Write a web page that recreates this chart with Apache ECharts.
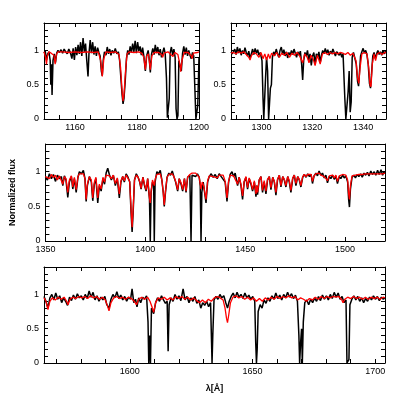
<!DOCTYPE html>
<html>
<head>
<meta charset="utf-8">
<script src="https://cdn.jsdelivr.net/npm/echarts@6/dist/echarts.min.js"></script>
<style>
  html, body { margin: 0; padding: 0; background: #fff; }
  #main { width: 407px; height: 407px; }
</style>
</head>
<body>
<div id="main"></div>
<script>
// 光谱数据 [波长, 归一化流量]
// 1150-1200
var obsA = [[1150.0,0.96],[1150.4,0.99],[1150.8,0.86],[1151.2,0.95],[1151.6,0.98],[1152.0,0.85],[1152.2,0.50],[1152.4,0.80],[1152.6,0.35],[1152.9,0.85],
  [1153.3,0.95],[1153.7,0.82],[1154.1,0.96],[1154.5,1.00],[1155.0,0.97],[1155.5,1.01],[1156.0,0.96],[1156.5,1.02],[1157.0,0.98],[1157.5,0.95],
  [1158.0,1.02],[1158.5,0.97],[1159.0,0.88],[1159.4,1.03],[1159.8,0.86],[1160.2,1.05],[1160.6,0.93],[1161.0,1.08],[1161.4,0.95],[1161.8,1.12],
  [1162.2,0.92],[1162.6,1.18],[1163.0,0.98],[1163.4,1.10],[1163.8,0.85],[1164.2,0.62],[1164.5,0.95],[1164.9,1.15],[1165.3,0.96],[1165.7,1.12],
  [1166.1,0.94],[1166.5,1.06],[1166.9,0.92],[1167.3,1.04],[1167.7,0.97],[1168.1,0.92],[1168.5,0.70],[1168.8,0.63],[1169.1,0.85],[1169.5,0.98],
  [1170.0,0.93],[1170.4,1.05],[1170.8,0.95],[1171.2,1.02],[1171.6,0.93],[1172.0,1.00],[1172.5,0.96],[1173.0,1.03],[1173.5,0.95],[1174.0,0.98],
  [1174.4,0.85],[1174.8,0.60],[1175.2,0.35],[1175.5,0.22],[1175.8,0.30],[1176.2,0.55],[1176.6,0.88],[1177.0,1.00],[1177.4,0.94],[1177.8,1.06],
  [1178.2,0.97],[1178.6,1.10],[1179.0,0.98],[1179.4,1.14],[1179.8,0.96],[1180.2,1.12],[1180.6,0.99],[1181.0,1.06],[1181.4,0.93],[1181.8,1.04],
  [1182.2,0.92],[1182.7,0.70],[1183.1,0.92],[1183.6,1.00],[1184.0,0.85],[1184.3,0.68],[1184.7,0.95],[1185.1,1.03],[1185.5,0.94],[1185.9,1.08],
  [1186.3,0.96],[1186.7,1.05],[1187.1,0.93],[1187.5,1.02],[1187.9,0.90],[1188.3,0.97],[1188.7,1.04],[1189.1,0.95],[1189.5,0.60],[1189.8,0.02],
  [1190.1,0.00],[1190.4,0.30],[1190.7,0.97],[1191.1,1.05],[1191.5,0.93],[1191.9,1.02],[1192.3,0.90],[1192.6,0.15],[1192.9,0.00],[1193.2,0.05],
  [1193.5,0.85],[1193.9,0.78],[1194.3,0.70],[1194.7,0.96],[1195.1,1.06],[1195.5,0.94],[1195.9,1.04],[1196.3,0.92],[1196.7,1.00],[1197.1,0.93],
  [1197.5,0.88],[1197.9,0.97],[1198.3,0.92],[1198.7,0.40],[1199.0,0.00],[1199.3,0.00],[1199.6,0.20],[1200.0,0.90]];
var modA = [[1150.0,0.98],[1150.5,0.90],[1150.8,0.80],[1151.1,0.92],[1151.6,0.98],[1152.3,0.96],[1153.2,0.93],[1153.6,0.80],[1154.0,0.94],[1154.5,0.98],
  [1156,0.98],[1158,0.97],[1160,0.98],[1162,0.97],[1164,0.98],[1166,0.97],[1167.5,0.98],[1168.3,0.85],[1168.8,0.62],[1169.3,0.88],
  [1170,0.98],[1171.5,0.97],[1173,0.98],[1174.2,0.94],[1174.7,0.75],[1175.2,0.40],[1175.5,0.26],[1175.8,0.35],[1176.3,0.70],[1176.8,0.95],
  [1177.5,0.98],[1179,0.97],[1180.5,0.98],[1181.5,0.96],[1182.2,0.90],[1182.7,0.72],[1183.1,0.92],[1183.7,0.95],[1184.3,0.72],[1184.8,0.92],
  [1185.5,0.97],[1187,0.97],[1188.0,0.94],[1188.3,0.90],[1188.7,0.96],[1190,0.98],[1191.6,0.91],[1192.2,0.97],[1193.2,0.94],[1193.8,0.80],
  [1194.1,0.69],[1194.5,0.85],[1195.2,0.97],[1196.5,0.97],[1197.5,0.92],[1197.8,0.88],[1198.2,0.96],[1199.5,0.97],[1200,0.98]];

// 1288-1349
var obsB = [[1288.0,0.98],[1288.5,0.95],[1289.0,0.97],[1289.5,1.02],[1290.0,0.94],[1290.5,1.05],[1291.0,0.96],[1291.5,1.03],[1292.0,0.93],[1292.5,1.00],
  [1293.0,0.95],[1293.5,1.04],[1294.0,0.97],[1294.5,0.92],[1295.0,0.99],[1295.5,0.88],[1296.0,0.95],[1296.5,1.02],[1297.0,0.94],[1297.5,1.03],
  [1298.0,0.96],[1298.5,1.01],[1299.0,0.93],[1299.5,0.97],[1300.2,0.85],[1300.6,0.30],[1300.9,0.00],[1301.3,0.00],[1301.6,0.60],[1302.0,0.90],
  [1302.4,0.70],[1302.8,0.00],[1303.2,0.00],[1303.5,0.45],[1303.9,0.50],[1304.3,0.90],[1304.8,0.98],[1305.3,0.93],[1305.8,1.02],[1306.3,0.95],
  [1306.8,0.90],[1307.3,1.00],[1307.8,1.05],[1308.3,0.94],[1308.8,1.01],[1309.3,0.92],[1309.8,0.98],[1310.3,0.89],[1310.8,0.97],[1311.3,0.93],
  [1311.8,1.00],[1312.3,0.94],[1312.8,1.02],[1313.3,0.96],[1313.8,0.90],[1314.3,0.98],[1314.8,0.93],[1315.3,0.99],[1315.8,0.80],[1316.2,0.57],
  [1316.6,0.85],[1317.1,0.97],[1317.6,0.92],[1318.1,1.00],[1318.6,0.86],[1319.1,0.95],[1319.6,0.78],[1320.1,0.92],[1320.6,0.97],[1321.1,0.80],
  [1321.6,0.95],[1322.1,0.90],[1322.6,0.98],[1323.1,0.82],[1323.6,0.93],[1324.1,1.00],[1324.6,0.95],[1325.1,1.03],[1325.6,0.96],[1326.1,1.01],
  [1326.6,0.93],[1327.1,0.99],[1327.6,0.95],[1328.1,1.02],[1328.6,0.97],[1329.1,0.92],[1329.6,0.98],[1330.1,1.00],[1330.6,0.93],[1331.1,0.97],
  [1331.6,0.90],[1332.1,0.95],[1332.8,0.30],[1333.2,0.00],[1333.7,0.00],[1334.1,0.40],[1334.5,0.70],[1334.9,0.10],[1335.3,0.25],[1335.7,0.90],
  [1336.2,0.97],[1336.7,0.95],[1337.3,0.80],[1337.8,0.55],[1338.2,0.48],[1338.6,0.70],[1339.0,0.92],[1339.5,0.98],[1340.0,1.03],[1340.5,0.96],
  [1341.0,1.00],[1341.5,0.94],[1342.0,0.80],[1342.5,0.52],[1342.9,0.45],[1343.3,0.65],[1343.8,0.92],[1344.3,0.97],[1344.8,0.88],[1345.3,0.95],
  [1345.8,1.00],[1346.3,0.94],[1346.8,0.98],[1347.3,0.93],[1347.8,1.00],[1348.3,0.95],[1348.8,0.99],[1349.0,0.96]];
var modB = [[1288,0.96],[1289,0.97],[1290,0.95],[1291,0.98],[1292,0.96],[1293,0.98],[1294,0.94],[1295.0,0.90],[1295.5,0.86],[1296.0,0.92],
  [1297,0.97],[1298,0.95],[1299,0.90],[1299.8,0.97],[1300.6,0.88],[1301.3,0.95],[1302,0.86],[1302.7,0.95],[1303.3,0.88],[1304,0.96],
  [1305,0.92],[1306,0.97],[1307,0.90],[1308,0.96],[1309,0.93],[1310,0.97],[1311,0.90],[1312,0.96],[1313,0.93],[1314,0.97],
  [1315,0.92],[1316.2,0.82],[1317,0.95],[1318,0.90],[1318.7,0.82],[1319.5,0.93],[1320.3,0.88],[1321.1,0.78],[1322,0.93],[1323.1,0.80],
  [1324,0.95],[1325,0.97],[1326,0.94],[1327,0.97],[1328,0.95],[1329,0.97],[1330,0.95],[1331,0.97],[1332,0.96],[1333,0.94],
  [1334,0.97],[1335,0.93],[1336,0.96],[1337.2,0.85],[1337.8,0.60],[1338.3,0.52],[1338.8,0.75],[1339.5,0.95],[1340.5,0.97],[1341.5,0.95],
  [1342.2,0.75],[1342.7,0.50],[1343.1,0.47],[1343.6,0.80],[1344.3,0.95],[1344.9,0.85],[1345.5,0.95],[1346.5,0.97],[1347.5,0.94],[1348.5,0.97],[1349,0.97]];

// 1350-1520
var obsC = [[1350,0.92],[1351,0.88],[1352,0.97],[1353,0.90],[1354,0.96],[1355,0.86],[1356,0.95],[1357,0.90],[1358,0.93],[1358.7,0.80],
  [1359.5,0.94],[1360.3,0.88],[1361.2,0.63],[1362,0.85],[1363,0.93],[1363.7,0.75],[1364.5,0.90],[1365.4,0.70],[1366.3,0.92],[1367,1.00],
  [1368,0.97],[1369,1.02],[1369.8,0.90],[1370.4,0.57],[1371,0.80],[1372,0.93],[1373,0.85],[1373.7,0.58],[1374.5,0.82],[1375.3,0.90],
  [1376.2,0.55],[1377,0.80],[1377.9,0.72],[1378.8,0.90],[1379.6,0.82],[1380.4,0.98],[1381.2,1.05],[1382,0.96],[1383,0.88],[1384,0.95],
  [1385,0.80],[1386,0.90],[1387,0.62],[1387.8,0.85],[1388.7,0.93],[1389.5,0.85],[1390.4,0.97],[1391.2,0.93],[1392.2,0.85],[1392.9,0.40],
  [1393.4,0.13],[1393.9,0.40],[1394.6,0.88],[1395.5,0.97],[1396.4,0.92],[1397.2,0.85],[1397.9,0.75],[1398.8,0.92],[1399.6,0.80],[1400.4,0.72],
  [1401.2,0.90],[1402.1,0.60],[1402.5,0.00],[1402.9,0.70],[1403.6,0.85],[1404.2,0.80],[1404.5,0.00],[1404.9,0.85],[1405.8,1.00],[1406.6,0.97],
  [1407.5,1.02],[1408.3,0.88],[1409.0,0.70],[1409.5,0.50],[1410.1,0.70],[1410.9,0.92],[1411.8,0.98],[1412.6,0.95],[1413.5,1.01],[1414.3,0.93],
  [1415.2,0.85],[1416.2,0.72],[1417.0,0.90],[1417.9,0.82],[1418.7,0.72],[1419.6,0.90],[1420.4,0.70],[1421.2,0.92],[1422.3,0.95],[1422.9,0.00],
  [1423.4,0.95],[1424.3,0.97],[1425.2,0.93],[1426.1,0.97],[1427.0,0.92],[1427.5,0.80],[1427.9,0.00],[1428.3,0.70],[1429.0,0.85],[1429.7,0.70],
  [1430.4,0.55],[1431.2,0.85],[1432,0.93],[1433,0.97],[1434,0.92],[1435,0.96],[1436,0.90],[1437,0.97],[1438,0.93],[1439,0.95],
  [1440,0.85],[1440.9,0.57],[1441.7,0.85],[1442.5,0.96],[1443.4,1.00],[1444.2,0.93],[1445.0,0.98],[1446.2,0.80],[1447.0,0.92],[1447.9,0.80],
  [1448.7,0.60],[1449.5,0.85],[1450.4,0.92],[1451.2,0.75],[1452.0,0.90],[1452.9,0.82],[1453.7,0.72],[1454.6,0.85],[1455.4,0.64],[1455.8,0.80],
  [1456.2,0.67],[1457.0,0.88],[1457.9,0.93],[1458.7,0.70],[1459.5,0.85],[1460.4,0.68],[1461.2,0.88],[1462.1,0.93],[1462.9,0.74],[1463.8,0.92],
  [1464.6,0.85],[1465.4,0.66],[1466.2,0.88],[1467.1,0.95],[1467.9,0.78],[1468.8,0.93],[1469.6,0.88],[1470.4,0.78],[1471.3,0.93],[1472.1,0.85],
  [1472.9,0.70],[1473.8,0.90],[1474.6,0.95],[1475.4,0.80],[1476.3,0.93],[1477.1,0.88],[1477.9,0.78],[1478.8,0.92],[1479.6,0.96],[1480.5,0.92],
  [1481.3,0.97],[1482.2,0.93],[1483.0,0.96],[1483.7,0.83],[1484.5,0.94],[1485.4,0.98],[1486.2,0.94],[1487.0,1.01],[1487.9,0.95],[1488.7,0.98],
  [1489.6,0.91],[1490.4,0.95],[1491.2,0.84],[1492.1,0.93],[1492.9,0.90],[1493.8,0.95],[1494.6,0.89],[1495.4,0.94],[1496.2,0.83],[1497.1,0.93],
  [1497.9,0.90],[1498.8,0.95],[1499.6,0.91],[1500.4,0.94],[1501.3,0.85],[1501.8,0.60],[1502.2,0.49],[1502.7,0.75],[1503.5,0.92],[1504.4,0.95],
  [1505.2,0.91],[1506.1,0.96],[1506.9,0.93],[1507.8,0.97],[1508.6,0.92],[1509.5,0.98],[1510.3,0.95],[1511.2,0.99],[1512.0,0.94],[1512.9,1.01],
  [1513.7,0.96],[1514.6,1.00],[1515.4,0.95],[1516.3,1.02],[1517.1,0.96],[1518.0,1.03],[1518.8,0.95],[1519.5,1.00],[1520,0.97]];
var modC = [[1350,0.93],[1351,0.95],[1352,0.90],[1353,0.96],[1354,0.92],[1355,0.95],[1356,0.88],[1357,0.94],[1358,0.92],[1358.7,0.82],
  [1359.5,0.93],[1360.3,0.90],[1361.2,0.70],[1362,0.88],[1363,0.94],[1363.7,0.78],[1364.5,0.92],[1365.4,0.74],[1366.3,0.93],[1367,0.97],
  [1368,0.95],[1369,0.97],[1369.8,0.90],[1370.4,0.60],[1371,0.82],[1372,0.93],[1373,0.88],[1373.7,0.62],[1374.5,0.85],[1375.3,0.92],
  [1376.2,0.62],[1377,0.82],[1377.9,0.75],[1378.8,0.92],[1379.6,0.85],[1380.4,0.95],[1381.2,0.97],[1382,0.94],[1383,0.90],[1384,0.95],
  [1385,0.83],[1386,0.91],[1387,0.68],[1387.8,0.87],[1388.7,0.93],[1389.5,0.87],[1390.4,0.95],[1391.2,0.93],[1392.2,0.86],[1392.9,0.45],
  [1393.4,0.20],[1393.9,0.45],[1394.6,0.88],[1395.5,0.95],[1396.4,0.92],[1397.2,0.86],[1397.9,0.76],[1398.8,0.92],[1399.6,0.82],[1400.4,0.74],
  [1401.2,0.90],[1402.1,0.62],[1402.5,0.55],[1402.9,0.72],[1403.6,0.88],[1404.5,0.80],[1405.0,0.90],[1405.8,0.96],[1406.6,0.95],[1407.5,0.97],
  [1408.3,0.88],[1409.0,0.70],[1409.5,0.52],[1410.1,0.72],[1410.9,0.92],[1411.8,0.96],[1412.6,0.94],[1413.5,0.97],[1414.3,0.93],[1415.2,0.86],
  [1416.2,0.74],[1417.0,0.90],[1417.9,0.84],[1418.7,0.74],[1419.6,0.90],[1420.4,0.72],[1421.2,0.92],[1422.3,0.96],[1423.4,0.98],[1424.3,0.99],
  [1425.2,0.98],[1426.1,0.97],[1427.0,0.92],[1427.9,0.75],[1428.5,0.85],[1429.2,0.80],[1430.4,0.60],[1431.2,0.87],[1432,0.94],[1433,0.96],
  [1434,0.93],[1435,0.95],[1436,0.91],[1437,0.95],[1438,0.93],[1439,0.95],[1440,0.86],[1440.9,0.62],[1441.7,0.86],[1442.5,0.95],
  [1443.4,0.97],[1444.2,0.94],[1445.0,0.96],[1446.2,0.82],[1447.0,0.92],[1447.9,0.82],[1448.7,0.65],[1449.5,0.86],[1450.4,0.93],[1451.2,0.77],
  [1452.0,0.91],[1452.9,0.84],[1453.7,0.74],[1454.6,0.87],[1455.4,0.68],[1455.8,0.80],[1456.2,0.70],[1457.0,0.88],[1457.9,0.93],[1458.7,0.73],
  [1459.5,0.87],[1460.4,0.72],[1461.2,0.89],[1462.1,0.93],[1462.9,0.77],[1463.8,0.92],[1464.6,0.86],[1465.4,0.70],[1466.2,0.89],[1467.1,0.95],
  [1467.9,0.80],[1468.8,0.93],[1469.6,0.89],[1470.4,0.80],[1471.3,0.93],[1472.1,0.87],[1472.9,0.73],[1473.8,0.91],[1474.6,0.95],[1475.4,0.83],
  [1476.3,0.93],[1477.1,0.89],[1477.9,0.80],[1478.8,0.93],[1479.6,0.96],[1480.5,0.93],[1481.3,0.96],[1482.2,0.94],[1483.0,0.96],[1483.7,0.86],
  [1484.5,0.94],[1485.4,0.97],[1486.2,0.95],[1487.0,0.98],[1487.9,0.95],[1488.7,0.97],[1489.6,0.93],[1490.4,0.95],[1491.2,0.87],[1492.1,0.94],
  [1492.9,0.92],[1493.8,0.95],[1494.6,0.91],[1495.4,0.95],[1496.2,0.86],[1497.1,0.94],[1497.9,0.93],[1498.8,0.96],[1499.6,0.94],[1500.4,0.95],
  [1501.3,0.88],[1501.8,0.68],[1502.2,0.60],[1502.7,0.80],[1503.5,0.94],[1504.4,0.96],[1505.2,0.95],[1506.1,0.97],[1506.9,0.96],[1507.8,0.97],
  [1508.6,0.96],[1509.5,0.98],[1510.3,0.97],[1511.2,0.98],[1512.0,0.97],[1512.9,0.99],[1513.7,0.97],[1514.6,0.98],[1515.4,0.97],[1516.3,0.99],
  [1517.1,0.97],[1518.0,0.99],[1518.8,0.97],[1520,0.98]];

// 1565-1704
var obsD = [[1565,0.97],[1565.8,0.90],[1566.6,0.80],[1567.4,0.95],[1568.2,1.00],[1569,0.92],[1569.8,1.02],[1570.6,0.93],[1571.4,0.98],[1572.2,0.88],
  [1573,0.95],[1573.8,0.90],[1574.6,0.84],[1575.4,0.96],[1576.2,0.91],[1577,0.99],[1577.8,0.93],[1578.6,1.01],[1579.4,0.95],[1580.2,0.98],
  [1581,0.92],[1581.8,1.00],[1582.6,0.94],[1583.4,1.05],[1584.2,0.96],[1585,1.03],[1585.8,0.92],[1586.6,0.98],[1587.4,0.90],[1588.2,0.96],
  [1589,0.92],[1589.8,0.97],[1590.6,0.85],[1591.5,0.80],[1592.3,0.93],[1593.1,1.00],[1593.9,0.95],[1594.7,1.04],[1595.5,0.94],[1596.3,0.99],
  [1597.1,0.92],[1597.9,0.97],[1598.7,0.90],[1599.5,0.96],[1600.3,0.93],[1600.9,1.08],[1601.6,0.88],[1602.3,0.93],[1602.9,0.82],[1603.6,0.95],
  [1604.4,0.88],[1605.2,0.96],[1606,0.93],[1606.8,0.98],[1607.4,0.60],[1607.7,0.00],[1608.0,0.40],[1608.4,0.00],[1608.8,0.80],[1609.7,0.72],
  [1610.5,0.88],[1611.3,0.95],[1612.1,0.90],[1612.9,0.98],[1613.7,0.92],[1614.5,0.87],[1615.2,0.90],[1615.6,0.17],[1616.0,0.85],[1616.8,0.95],
  [1617.6,0.90],[1618.4,1.00],[1619.2,0.93],[1620,0.98],[1620.8,0.91],[1621.7,1.08],[1622.5,0.92],[1623.3,0.97],[1624.1,0.88],[1624.9,0.95],
  [1625.7,0.90],[1626.5,0.97],[1627.3,0.87],[1628.1,0.92],[1628.9,0.80],[1629.7,0.88],[1630.5,0.84],[1631.3,0.90],[1632.1,0.82],[1632.9,0.88],
  [1633.3,0.30],[1633.5,0.00],[1633.8,0.40],[1634.3,0.92],[1635.1,0.97],[1635.9,0.93],[1636.7,1.00],[1637.5,0.95],[1638.3,0.98],[1639.1,0.88],
  [1639.8,0.80],[1640.5,0.90],[1641.3,0.97],[1642.1,1.02],[1642.9,0.95],[1643.7,1.03],[1644.5,0.96],[1645.3,1.00],[1646.1,0.94],[1646.9,1.02],
  [1647.7,0.95],[1648.5,0.99],[1649.3,0.93],[1650.1,0.97],[1650.9,0.90],[1651.3,0.30],[1651.6,0.00],[1651.9,0.20],[1652.3,0.75],[1653.1,0.85],
  [1653.9,0.80],[1654.7,0.92],[1655.5,0.87],[1656.3,0.95],[1657.1,0.90],[1657.9,0.98],[1658.7,0.93],[1659.5,1.02],[1660.3,0.94],[1661.1,0.99],
  [1661.9,0.92],[1662.7,1.00],[1663.5,0.95],[1664.3,1.03],[1665.1,0.96],[1665.9,1.01],[1666.7,0.94],[1667.5,0.99],[1668.3,0.90],[1668.9,0.40],
  [1669.2,0.00],[1669.6,0.30],[1670.0,0.50],[1670.3,0.00],[1670.7,0.60],[1671.3,0.88],[1672.1,0.92],[1672.9,0.85],[1673.7,0.93],[1674.5,0.88],
  [1675.3,0.95],[1676.1,0.90],[1676.9,0.97],[1677.7,0.91],[1678.5,0.99],[1679.3,0.93],[1680.1,0.98],[1680.9,0.92],[1681.7,1.00],[1682.5,0.94],
  [1683.3,1.03],[1684.1,0.96],[1684.9,1.02],[1685.7,0.93],[1686.5,0.97],[1687.3,0.88],[1688.1,0.92],[1688.5,0.00],[1688.9,0.00],[1689.3,0.05],
  [1689.7,0.85],[1690.5,0.93],[1691.3,0.98],[1692.1,0.92],[1692.9,0.97],[1693.7,0.90],[1694.5,0.95],[1695.3,0.88],[1696.1,0.94],[1696.9,0.90],
  [1697.7,0.96],[1698.5,0.92],[1699.3,0.98],[1700.1,0.93],[1700.9,0.97],[1701.7,0.91],[1702.5,0.96],[1703.3,0.93],[1704,0.95]];
var modD = [[1565,0.95],[1565.8,0.90],[1566.6,0.78],[1567.4,0.90],[1568.4,0.95],[1569.6,0.92],[1570.8,0.96],[1572,0.93],[1573.2,0.96],[1574.2,0.90],
  [1574.8,0.85],[1575.6,0.93],[1576.8,0.96],[1578,0.94],[1579.2,0.97],[1580.4,0.95],[1581.6,0.97],[1582.8,0.94],[1584,0.98],[1585.2,0.95],
  [1586.4,0.97],[1587.6,0.93],[1588.8,0.96],[1590,0.92],[1590.8,0.84],[1591.5,0.76],[1592.3,0.88],[1593.4,0.95],[1594.6,0.97],[1595.8,0.94],
  [1597,0.96],[1598.2,0.93],[1599.4,0.96],[1600.6,0.94],[1601.8,0.90],[1602.7,0.85],[1603.6,0.93],[1604.8,0.96],[1606,0.93],[1607.2,0.96],
  [1608.2,0.90],[1609.0,0.82],[1609.7,0.74],[1610.5,0.88],[1611.6,0.95],[1612.8,0.93],[1614,0.96],[1615.2,0.92],[1616.4,0.95],[1617.6,0.92],
  [1618.8,0.97],[1620,0.94],[1621.2,0.97],[1622.4,0.93],[1623.6,0.96],[1624.8,0.92],[1626,0.95],[1627.2,0.91],[1628.4,0.88],[1629.6,0.92],
  [1630.8,0.88],[1632,0.93],[1633.2,0.90],[1634.4,0.95],[1635.6,0.97],[1636.8,0.95],[1638.0,0.92],[1638.8,0.80],[1639.4,0.65],[1639.8,0.59],
  [1640.3,0.70],[1641.0,0.88],[1642.0,0.96],[1643.2,0.98],[1644.4,0.95],[1645.6,0.97],[1646.8,0.93],[1648,0.96],[1649.2,0.92],[1650.4,0.95],
  [1651.6,0.90],[1652.8,0.94],[1654,0.90],[1655.2,0.95],[1656.4,0.92],[1657.6,0.96],[1658.8,0.93],[1660,0.97],[1661.2,0.94],[1662.4,0.97],
  [1663.6,0.95],[1664.8,0.98],[1666,0.95],[1667.2,0.97],[1668.4,0.92],[1669.6,0.95],[1670.8,0.93],[1672,0.90],[1673.2,0.94],[1674.4,0.92],
  [1675.6,0.96],[1676.8,0.93],[1678,0.97],[1679.2,0.94],[1680.4,0.97],[1681.6,0.95],[1682.8,0.97],[1684,0.96],[1685.2,0.97],[1686.4,0.92],
  [1686.9,0.88],[1687.6,0.93],[1688.8,0.96],[1690,0.94],[1691.2,0.97],[1692.4,0.94],[1693.6,0.96],[1694.8,0.93],[1696,0.96],[1697.2,0.93],
  [1698.4,0.96],[1699.6,0.94],[1700.8,0.96],[1702,0.93],[1703.2,0.96],[1704,0.95]];

// 刻度
var ticksA = [1155,1160,1165,1170,1175,1180,1185,1190,1195];
var labelsA = [1160,1180,1200];
var ticksB = [1290,1295,1300,1305,1310,1315,1320,1325,1330,1335,1340,1345];
var labelsB = [1300,1320,1340];
var ticksC = [1360,1370,1380,1390,1400,1410,1420,1430,1440,1450,1460,1470,1480,1490,1500,1510];
var labelsC = [1350,1400,1450,1500];
var ticksD = [1570,1580,1590,1600,1610,1620,1630,1640,1650,1660,1670,1680,1690,1700];
var labelsD = [1600,1650,1700];
var ticksY = [0.1,0.2,0.3,0.4,0.5,0.6,0.7,0.8,0.9,1.0,1.1,1.2,1.3];
var labelsY = [0,0.5,1];

var myChart = echarts.init(document.getElementById('main'));

var labelFont = { color: '#000', fontFamily: 'Liberation Sans', fontSize: 9 };
var black = { color: '#000', width: 1 };

//生成一个面板的坐标轴(四边都有刻度)
function makeX(gi, min, max, ticks, labels, name) {
    var base = {
        gridIndex: gi, type: 'value', min: min, max: max,
        splitLine: { show: false },
        axisLine: { show: true, onZero: false, lineStyle: black }
    };
    var bottom = Object.assign({}, base, {
        position: 'bottom',
        axisTick: { inside: true, length: 4, customValues: ticks, lineStyle: black },
        axisLabel: Object.assign({
            customValues: labels, margin: 4,
            formatter: function (v) { return String(v); }
        }, labelFont)
    });
    if (name) {
        bottom.name = name;
        bottom.nameLocation = 'middle';
        bottom.nameGap = 21;
        bottom.nameTextStyle = { color: '#000', fontFamily: 'Liberation Sans', fontSize: 9, fontWeight: 'bold' };
    }
    var top = Object.assign({}, base, {
        position: 'top',
        axisTick: { inside: true, length: 4, customValues: ticks, lineStyle: black },
        axisLabel: { show: false }
    });
    return [bottom, top];
}

function makeY(gi, name) {
    var base = {
        gridIndex: gi, type: 'value', min: 0, max: 1.4,
        splitLine: { show: false },
        axisLine: { show: true, onZero: false, lineStyle: black }
    };
    var left = Object.assign({}, base, {
        position: 'left',
        axisTick: { inside: true, length: 4, customValues: ticksY, lineStyle: black },
        axisLabel: Object.assign({
            customValues: labelsY, margin: 5,
            formatter: function (v) { return String(v); }
        }, labelFont)
    });
    if (name) {
        left.name = name;
        left.nameLocation = 'middle';
        left.nameRotate = 90;
        left.nameGap = 24;
        left.nameTextStyle = { color: '#000', fontFamily: 'Liberation Sans', fontSize: 9, fontWeight: 'bold' };
    }
    var right = Object.assign({}, base, {
        position: 'right',
        axisTick: { inside: true, length: 4, customValues: ticksY, lineStyle: black },
        axisLabel: { show: false }
    });
    return [left, right];
}

function spec(gi, obs, mod) {
    return [
        { type: 'line', xAxisIndex: gi * 2, yAxisIndex: gi * 2, data: obs, showSymbol: false,
          lineStyle: { color: '#000', width: 1.5 }, itemStyle: { color: '#000' }, z: 2 },
        { type: 'line', xAxisIndex: gi * 2, yAxisIndex: gi * 2, data: mod, showSymbol: false,
          lineStyle: { color: '#ff0000', width: 1.3 }, itemStyle: { color: '#ff0000' }, z: 3 }
    ];
}

var option = {
    animation: false,
    backgroundColor: '#fff',
    grid: [
        { left: 44, top: 23, width: 155, height: 96 },
        { left: 231, top: 23, width: 155, height: 96 },
        { left: 44, top: 144, width: 341, height: 97 },
        { left: 44, top: 267, width: 341, height: 96 }
    ],
    xAxis: [].concat(
        makeX(0, 1150, 1200, ticksA, labelsA),
        makeX(1, 1288, 1349, ticksB, labelsB),
        makeX(2, 1350, 1520, ticksC, labelsC),
        makeX(3, 1565, 1704, ticksD, labelsD, 'λ[Å]')
    ),
    yAxis: [].concat(
        makeY(0), makeY(1), makeY(2, 'Normalized flux'), makeY(3)
    ),
    series: [].concat(
        spec(0, obsA, modA), spec(1, obsB, modB), spec(2, obsC, modC), spec(3, obsD, modD)
    )
};
myChart.setOption(option);
</script>
</body>
</html>
